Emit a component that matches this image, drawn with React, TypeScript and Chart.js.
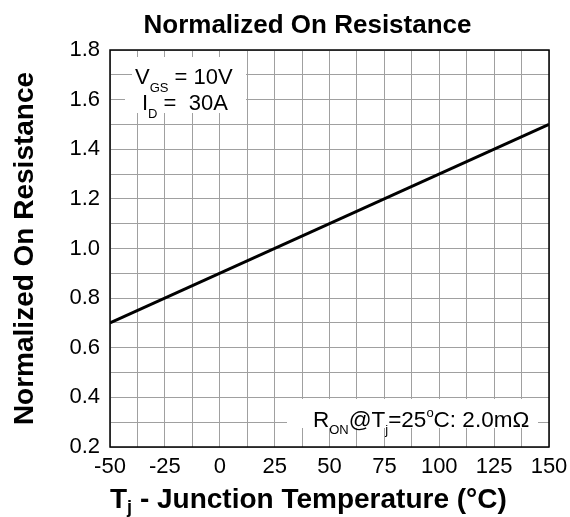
import React, { useEffect, useRef } from 'react';
import { Chart, registerables } from 'chart.js';

Chart.register(...registerables);

// ---- data ----
const temperatures = [-50, 150];
const normalizedResistance = [0.7, 1.5];
const xTickLabels = ['-50', '-25', '0', '25', '50', '75', '100', '125', '150'];
const yTickLabels = ['0.2', '0.4', '0.6', '0.8', '1.0', '1.2', '1.4', '1.6', '1.8'];
const X_MIN = -50;
const X_MAX = 150;
const X_LABEL_STEP = 25;
const X_GRID_STEP = 12.5;
const Y_MIN = 0.2;
const Y_MAX = 1.8;
const Y_LABEL_STEP = 0.2;
const Y_GRID_STEP = 0.1;

const FONT = '"Liberation Sans", Arial, Helvetica, sans-serif';

type Part = { t: string; sub?: boolean };

function drawParts(
  ctx: CanvasRenderingContext2D,
  parts: Part[],
  x: number,
  baseline: number,
  size: number,
  subSize: number,
  subDrop: number,
  weight: string
) {
  let cx = x;
  ctx.textAlign = 'left';
  ctx.textBaseline = 'alphabetic';
  parts.forEach((p) => {
    ctx.font = `${weight} ${p.sub ? subSize : size}px ${FONT}`;
    ctx.fillText(p.t, cx, baseline + (p.sub ? subDrop : 0));
    cx += ctx.measureText(p.t).width;
  });
}

const decorPlugin = {
  id: 'decor',
  beforeDatasetsDraw(chart: any) {
    const { ctx, chartArea } = chart;
    const { left, top, right, bottom } = chartArea;
    ctx.save();
    // white label backgrounds
    ctx.fillStyle = '#ffffff';
    ctx.fillRect(left + 22, top + 7, 114, 31);
    ctx.fillRect(left + 15, top + 36, 121, 27);
    ctx.fillRect(left + 177, bottom - 48, 251, 29);
    ctx.fillStyle = '#000000';
    drawParts(ctx, [{ t: 'V' }, { t: 'GS', sub: true }, { t: ' = 10V' }], left + 25, top + 34, 22, 13, 8, 'normal');
    drawParts(ctx, [{ t: 'I' }, { t: 'D', sub: true }, { t: ' =  30A' }], left + 32, top + 60, 22, 13, 8, 'normal');
    // RON label with superscript degree
    let x = right - 236;
    const base = bottom - 20;
    const seg = (t: string, size: number, dy: number) => {
      ctx.font = `normal ${size}px ${FONT}`;
      ctx.fillText(t, x, base + dy);
      x += ctx.measureText(t).width;
    };
    ctx.textAlign = 'left';
    ctx.textBaseline = 'alphabetic';
    seg('R', 22.5, 0);
    seg('ON', 13, 7);
    seg('@T', 22.5, 0);
    seg('j', 13, 7);
    seg('=25', 22.5, 0);
    seg('o', 13, -10);
    seg('C: 2.0m\u03A9', 22.5, 0);
    ctx.restore();
  },
  afterDraw(chart: any) {
    const { ctx, chartArea } = chart;
    const { left, top, right, bottom } = chartArea;
    ctx.save();
    ctx.strokeStyle = '#000000';
    ctx.lineWidth = 1.5;
    ctx.strokeRect(left, top, right - left, bottom - top);
    ctx.fillStyle = '#000000';
    // chart title
    ctx.font = `bold 26px ${FONT}`;
    ctx.textAlign = 'center';
    ctx.textBaseline = 'alphabetic';
    ctx.fillText('Normalized On Resistance', 307.5, 33);
    // x title
    drawParts(
      ctx,
      [{ t: 'T' }, { t: 'j', sub: true }, { t: ' - Junction Temperature (\u00B0C)' }],
      left,
      508,
      28,
      18,
      5,
      'bold'
    );
    // y title
    ctx.translate(33, (top + bottom) / 2);
    ctx.rotate(-Math.PI / 2);
    ctx.font = `bold 28px ${FONT}`;
    ctx.textAlign = 'center';
    ctx.fillText('Normalized On Resistance', 0, 0);
    ctx.restore();
  },
};

export default function App() {
  const ref = useRef<HTMLCanvasElement | null>(null);
  useEffect(() => {
    document.body.style.margin = '0';
    const canvas = ref.current!;
    const chart = new Chart(canvas, {
      type: 'line',
      data: {
        datasets: [
          {
            data: temperatures.map((t, i) => ({ x: t, y: normalizedResistance[i] })),
            borderColor: '#000000',
            borderWidth: 3,
            pointRadius: 0,
            fill: false,
          },
        ],
      },
      options: {
        animation: false,
        responsive: false,
        devicePixelRatio: 1,
        layout: { padding: { left: 0, right: 21, top: 50, bottom: 0 } },
        plugins: { legend: { display: false }, title: { display: false }, tooltip: { enabled: false } },
        scales: {
          x: {
            type: 'linear',
            min: X_MIN,
            max: X_MAX,
            afterBuildTicks: (scale: any) => {
              const ticks = [];
              for (let v = X_MIN; v <= X_MAX + 1e-9; v += X_GRID_STEP) ticks.push({ value: v });
              scale.ticks = ticks;
            },
            afterFit: (scale: any) => {
              scale.height = 70;
              scale.paddingLeft = 0;
              scale.paddingRight = 0;
            },
            ticks: {
              autoSkip: false,
              maxRotation: 0,
              padding: 7,
              color: '#000000',
              font: { family: FONT, size: 22 },
              callback: (value: any) => {
                const r = (Number(value) - X_MIN) / X_LABEL_STEP;
                const idx = Math.round(r);
                return Math.abs(r - idx) < 1e-6 ? xTickLabels[idx] ?? '' : '';
              },
            },
            grid: { color: '#a0a0a0', lineWidth: 1, drawTicks: false },
            border: { display: false },
          },
          y: {
            type: 'linear',
            min: Y_MIN,
            max: Y_MAX,
            afterBuildTicks: (scale: any) => {
              const ticks = [];
              const n = Math.round((Y_MAX - Y_MIN) / Y_GRID_STEP);
              for (let i = 0; i <= n; i++) ticks.push({ value: Y_MIN + i * Y_GRID_STEP });
              scale.ticks = ticks;
            },
            afterFit: (scale: any) => {
              scale.width = 110;
              scale.paddingTop = 0;
              scale.paddingBottom = 0;
            },
            ticks: {
              autoSkip: false,
              padding: 10,
              color: '#000000',
              font: { family: FONT, size: 22 },
              callback: (value: any) => {
                const r = (Number(value) - Y_MIN) / Y_LABEL_STEP;
                const idx = Math.round(r);
                return Math.abs(r - idx) < 1e-6 ? yTickLabels[idx] ?? '' : '';
              },
            },
            grid: { color: '#a0a0a0', lineWidth: 1, drawTicks: false },
            border: { display: false },
          },
        },
      },
      plugins: [decorPlugin],
    });
    return () => chart.destroy();
  }, []);
  return <canvas ref={ref} width={570} height={517} style={{ display: 'block' }} />;
}
